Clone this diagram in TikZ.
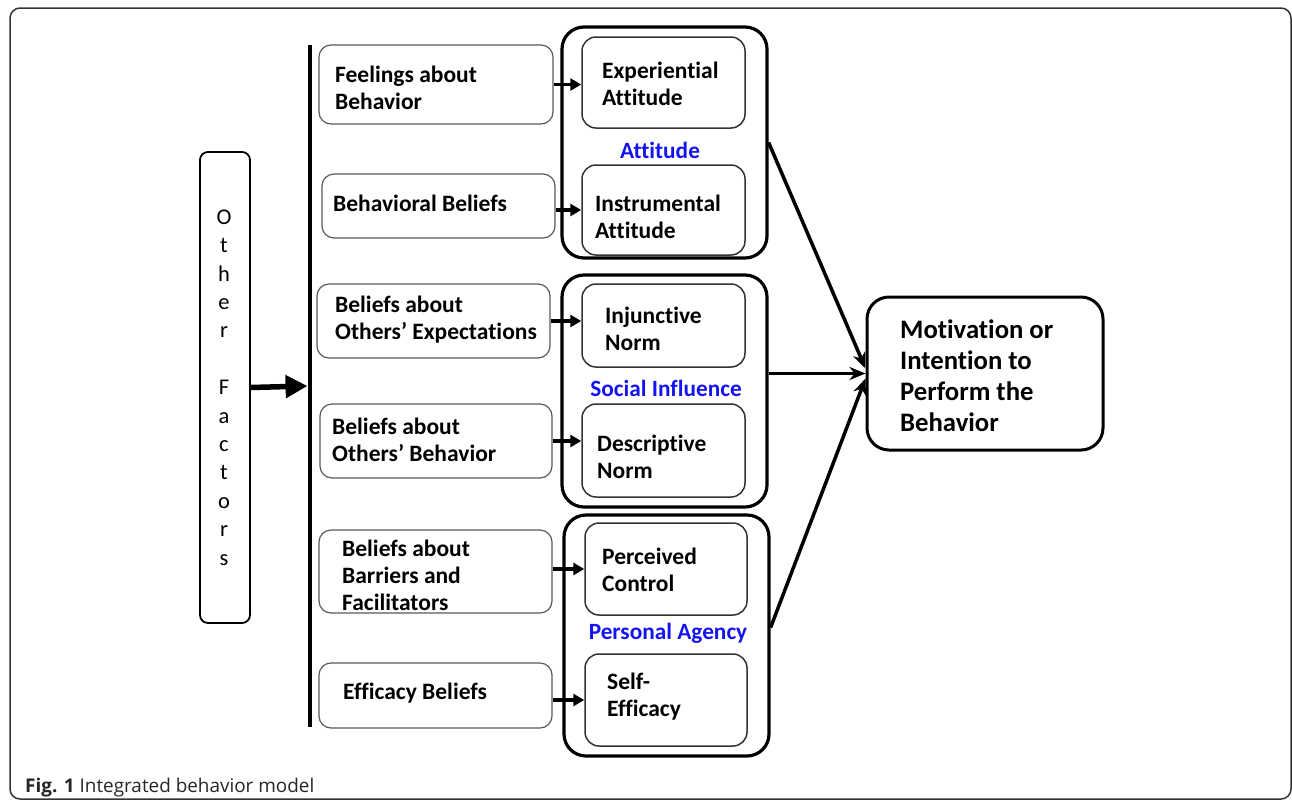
\documentclass[tikz,border=0pt]{standalone}
\usepackage{fontspec}
\setmainfont{Carlito}[Ligatures={NoCommon}]
\newfontfamily\capfont{Open Sans}
\usetikzlibrary{arrows.meta}
\definecolor{lblue}{RGB}{20,20,240}
\begin{document}
\begin{tikzpicture}[x=1pt,y=-1pt,
 lbox/.style={draw=black!65, line width=1.2pt, rounded corners=12pt, inner sep=0pt},
 ibox/.style={draw=black!80, line width=1.5pt, rounded corners=14pt, inner sep=0pt},
 gbox/.style={draw=black, line width=3.2pt, rounded corners=22pt, inner sep=0pt},
 btxt/.style={font=\fontsize{23.5}{27}\selectfont\bfseries, align=left, anchor=west, inner sep=0pt},
 glabel/.style={font=\fontsize{23.3}{26}\selectfont\bfseries, text=lblue, inner sep=0pt},
 sarrow/.style={line width=3.2pt, -{Triangle[length=11pt,width=12pt]}},
 barrow/.style={line width=3.5pt, -{Stealth[length=16pt,width=13pt,inset=5pt]}},
]
\useasboundingbox (0,0) rectangle (1292,801);
% outer frame
\draw[line width=1.5pt, rounded corners=10pt, color=black!80] (10,8) rectangle (1291,799);

% vertical bar
\node[fill=black, minimum width=4.5pt, minimum height=682pt, inner sep=0pt] (bar) at (310,386) {};

% other factors
\node[draw=black, line width=1.8pt, rounded corners=8pt, minimum width=50pt, minimum height=471pt, inner sep=0pt] (of) at (225,387.5) {};
\node[font=\fontsize{22.5}{28.4}\selectfont, align=center, inner sep=0pt] (oft) at (224,387.5) {O\\t\\h\\e\\r\\\mbox{}\\F\\a\\c\\t\\o\\r\\s};
\draw[line width=5.5pt, -{Triangle[length=22pt,width=22pt]}] (of.east) -- (bar.west);

% left boxes
\node[lbox, minimum width=234pt, minimum height=79pt] (feel) at (436,84.5) {};
\node[btxt] (feelt) at (335,88) {Feelings about\\Behavior};
\node[lbox, minimum width=233pt, minimum height=64pt] (bb) at (438.5,206) {};
\node[btxt] (bbt) at (333,203) {Behavioral Beliefs};
\node[lbox, minimum width=233pt, minimum height=74pt] (exp) at (433.5,321) {};
\node[btxt] (expt) at (335,320) {Beliefs about\\Others’ Expectations};
\node[lbox, minimum width=232pt, minimum height=74pt] (obeh) at (436,441) {};
\node[btxt] (obeht) at (332,440) {Beliefs about\\Others’ Behavior};
\node[lbox, minimum width=233pt, minimum height=83pt] (barr) at (435.5,571.5) {};
\node[btxt] (barrt) at (342,575) {Beliefs about\\Barriers and\\Facilitators};
\node[lbox, minimum width=233pt, minimum height=65pt] (eff) at (435.5,695.5) {};
\node[btxt] (efft) at (343,693) {Efficacy Beliefs};

% group boxes
\node[gbox, minimum width=205pt, minimum height=231pt] (att) at (664.5,142.5) {};
\node[gbox, minimum width=205pt, minimum height=232pt] (soc) at (664.5,391) {};
\node[gbox, minimum width=205pt, minimum height=241pt] (pa) at (666.5,635.5) {};

% inner boxes
\node[ibox, minimum width=163pt, minimum height=91pt] (ea) at (663.5,82.5) {};
\node[btxt] (eat) at (602,83.5) {Experiential\\Attitude};
\node[ibox, minimum width=163pt, minimum height=90pt] (ia) at (663.5,210) {};
\node[btxt] (iat) at (595,217) {Instrumental\\Attitude};
\node[ibox, minimum width=163pt, minimum height=83pt] (inj) at (663.5,325.5) {};
\node[btxt] (injt) at (605,328.5) {Injunctive\\Norm};
\node[ibox, minimum width=163pt, minimum height=93pt] (desc) at (663.5,450.5) {};
\node[btxt] (desct) at (597,456.5) {Descriptive\\Norm};
\node[ibox, minimum width=162pt, minimum height=92pt] (pc) at (666,569) {};
\node[btxt] (pct) at (602,570) {Perceived\\Control};
\node[ibox, minimum width=162pt, minimum height=92pt] (se) at (666,700) {};
\node[btxt] (set) at (607,696.5) {Self-\\Efficacy};

% group labels
\node[glabel] (attl) at (660,150) {Attitude};
\node[glabel] (socl) at (666,388) {Social Influence};
\node[glabel] (pal) at (668,633) {Personal Agency};

% motivation
\node[draw=black, line width=3pt, rounded corners=22pt, minimum width=236pt, minimum height=153pt, inner sep=0pt] (mot) at (985,373.5) {};
\node[font=\fontsize{26.7}{31}\selectfont\bfseries, align=left, anchor=west, inner sep=0pt] (mott) at (900,376) {Motivation or\\Intention to\\Perform the\\Behavior};

% small arrows
\draw[sarrow] (feel.east) -- (feel.east -| ea.west);
\draw[sarrow] (ia.west -| bb.east) -- (ia.west);
\draw[sarrow] (exp.east) -- (exp.east -| inj.west);
\draw[sarrow] (obeh.east) -- (obeh.east -| desc.west);
\draw[sarrow] (pc.west -| barr.east) -- (pc.west);
\draw[sarrow] (se.west -| eff.east) -- (se.west);

% big arrows
\draw[barrow] (att.east) -- ([yshift=5pt]mot.west);
\draw[barrow] (soc.east |- mot.west) -- (mot.west);
\draw[barrow] ([yshift=8pt]pa.east) -- ([yshift=-5pt]mot.west);

% caption
\node[font=\capfont\fontsize{18.9}{22}\selectfont, text=black!85, anchor=base west, inner sep=0pt] (cap) at (25,792) {\textbf{Fig. 1} Integrated behavior model};
\end{tikzpicture}
\end{document}
